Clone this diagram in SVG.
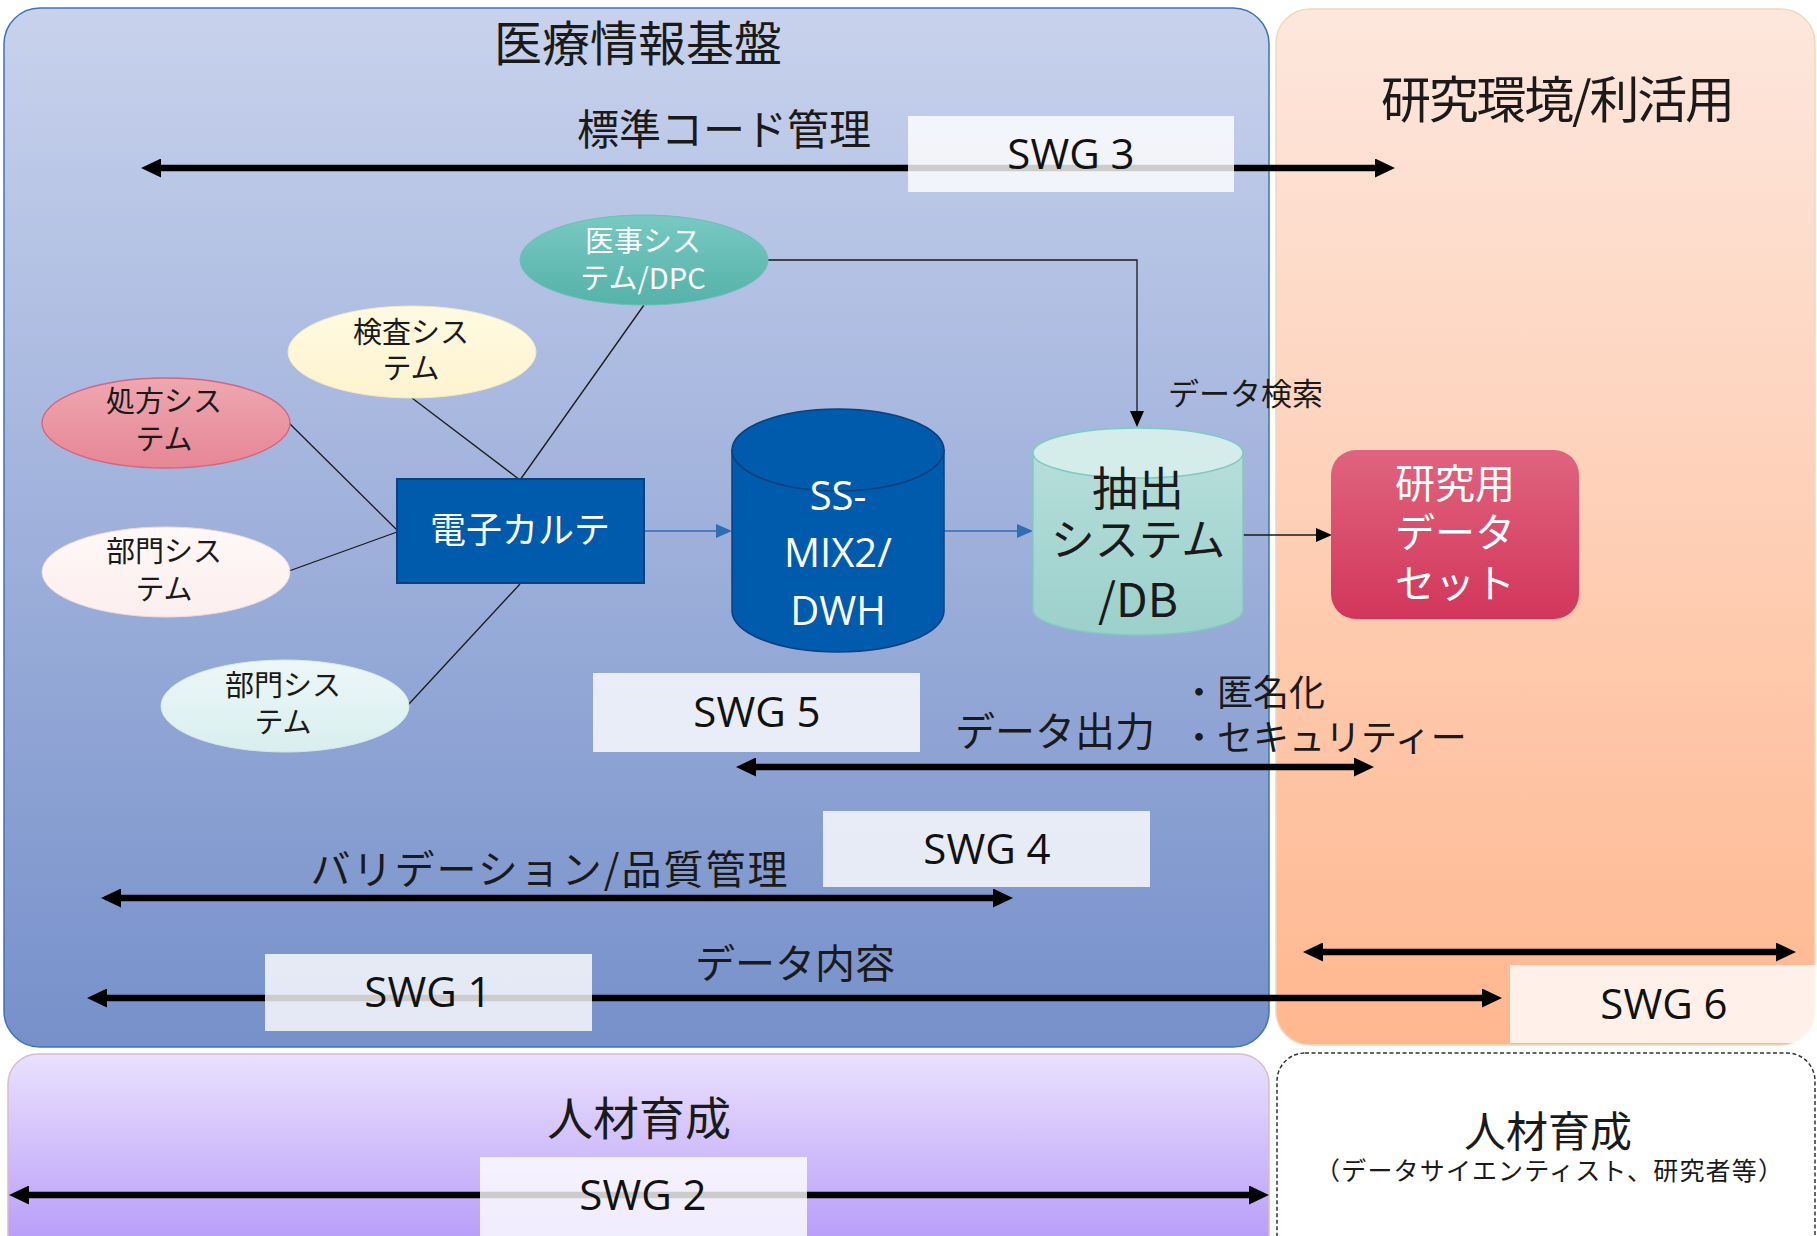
<svg xmlns="http://www.w3.org/2000/svg" width="1817" height="1236" viewBox="0 0 1817 1236">
<defs>
<linearGradient id="gBlue" x1="0" y1="0" x2="0" y2="1"><stop offset="0" stop-color="#C8D2EC"/><stop offset="1" stop-color="#7690CA"/></linearGradient>
<linearGradient id="gPeach" x1="0" y1="0" x2="0" y2="1"><stop offset="0" stop-color="#FDE7DD"/><stop offset="1" stop-color="#FFB78F"/></linearGradient>
<linearGradient id="gPurple" x1="0" y1="0" x2="0" y2="1"><stop offset="0" stop-color="#E9E1FD"/><stop offset="1" stop-color="#B395F8"/></linearGradient>
<linearGradient id="gTeal" x1="0" y1="0" x2="0" y2="1"><stop offset="0" stop-color="#78C9C1"/><stop offset="1" stop-color="#55B2AA"/></linearGradient>
<linearGradient id="gPink" x1="0" y1="0" x2="0" y2="1"><stop offset="0" stop-color="#EEA7B0"/><stop offset="1" stop-color="#E68696"/></linearGradient>
<linearGradient id="gWhitePink" x1="0" y1="0" x2="0" y2="1"><stop offset="0" stop-color="#FFF8F7"/><stop offset="1" stop-color="#FCEEEE"/></linearGradient>
<linearGradient id="gCyan" x1="0" y1="0" x2="0" y2="1"><stop offset="0" stop-color="#EDF7F7"/><stop offset="1" stop-color="#D9EEEE"/></linearGradient>
<linearGradient id="gYellow" x1="0" y1="0" x2="0" y2="1"><stop offset="0" stop-color="#FFFAE2"/><stop offset="1" stop-color="#FDF3CF"/></linearGradient>
<linearGradient id="gRed" x1="0" y1="0" x2="0" y2="1"><stop offset="0" stop-color="#E0647F"/><stop offset="1" stop-color="#D2365A"/></linearGradient>
<linearGradient id="gDB" x1="0" y1="0" x2="0" y2="1"><stop offset="0" stop-color="#B6DEDA"/><stop offset="1" stop-color="#9BD0CB"/></linearGradient>
<marker id="ah" markerUnits="userSpaceOnUse" markerWidth="20" markerHeight="19" viewBox="0 0 20 19" refX="1" refY="9.5" orient="auto-start-reverse"><path d="M0,0 L20,9.5 L0,19 z" fill="#000"/></marker>
<marker id="at" markerUnits="userSpaceOnUse" markerWidth="16" markerHeight="14" viewBox="0 0 16 14" refX="14" refY="7" orient="auto"><path d="M0,0 L16,7 L0,14 z" fill="#000"/></marker>
<marker id="ab" markerUnits="userSpaceOnUse" markerWidth="16" markerHeight="14" viewBox="0 0 16 14" refX="14" refY="7" orient="auto"><path d="M0,0 L16,7 L0,14 z" fill="#2F6DB5"/></marker>
<style>
.jp{font-family:"Noto Sans CJK JP","Noto Sans",sans-serif;fill:#1a1a1a}
.lat{font-family:"Open Sans","Liberation Sans",sans-serif;fill:#111}
.w{fill:#fff}
.mid{text-anchor:middle}
.thick{stroke:#000;stroke-width:6.5;fill:none;marker-start:url(#ah);marker-end:url(#ah)}
.thin{stroke:#1a1a1a;stroke-width:1.3;fill:none}
.swg{fill:#fff;fill-opacity:0.8}
</style>
</defs>

<!-- panels -->
<g id="panel-kiban"><rect x="4" y="8" width="1265" height="1039" rx="36" fill="url(#gBlue)" stroke="#3F72B8" stroke-width="1.5"/>
<text class="jp mid" x="638" y="61" font-size="48">医療情報基盤</text></g>
<g id="panel-kenkyu"><rect x="1276" y="9" width="539" height="1036" rx="34" fill="url(#gPeach)" stroke="#EFD9B8" stroke-width="1.5"/>
<text class="jp mid" x="1558" y="118" font-size="50" textLength="354" lengthAdjust="spacing">研究環境/利活用</text></g>
<g id="panel-jinzai"><rect x="8" y="1054" width="1261" height="210" rx="30" fill="url(#gPurple)" stroke="#D8BCCB" stroke-width="1.5"/>
<text class="jp mid" x="639" y="1135" font-size="46">人材育成</text></g>
<g id="panel-jinzai2"><rect x="1277" y="1053" width="538" height="210" rx="28" fill="#fff" stroke="#333" stroke-width="1.5" stroke-dasharray="4,2.5"/>
<text class="jp mid" x="1548" y="1147" font-size="42">人材育成</text>
<text class="jp mid" x="1549" y="1180" font-size="25" textLength="468" lengthAdjust="spacing">（データサイエンティスト、研究者等）</text></g>

<!-- connectors -->
<g id="connectors">
<line class="thin" x1="289" y1="423" x2="397" y2="530"/>
<line class="thin" x1="289" y1="571" x2="397" y2="532"/>
<line class="thin" x1="412" y1="398" x2="520" y2="480"/>
<line class="thin" x1="644" y1="305" x2="520" y2="480"/>
<line class="thin" x1="408" y1="705" x2="520" y2="584"/>
<path class="thin" d="M768,260 H1137 V425" marker-end="url(#at)"/>
<path class="thin" d="M1243,535 H1330" marker-end="url(#at)"/>
<path d="M644,531 H730" stroke="#2F6DB5" stroke-width="1.5" fill="none" marker-end="url(#ab)"/>
<path d="M944,531 H1031" stroke="#2F6DB5" stroke-width="1.5" fill="none" marker-end="url(#ab)"/>
<line class="thick" x1="160" y1="168" x2="1376" y2="168"/>
<line class="thick" x1="755" y1="767" x2="1355" y2="767"/>
<line class="thick" x1="120" y1="898" x2="994" y2="898"/>
<line class="thick" x1="106" y1="998" x2="1483" y2="998"/>
<line class="thick" x1="1322" y1="952" x2="1777" y2="952"/>
<line class="thick" x1="28" y1="1195" x2="1250" y2="1195"/>
</g>

<!-- nodes -->
<g id="iji"><ellipse cx="644" cy="260" rx="124" ry="45" fill="url(#gTeal)" stroke="#6CBFB6" stroke-width="1"/>
<text class="jp mid w" x="643" y="252" font-size="29">医事シス</text>
<text class="jp mid w" x="643" y="289" font-size="29">テム/DPC</text></g>
<g id="kensa"><ellipse cx="412" cy="352" rx="124" ry="46" fill="url(#gYellow)" stroke="#F3E9C2" stroke-width="1"/>
<text class="jp mid" x="411" y="343" font-size="29">検査シス</text>
<text class="jp mid" x="411" y="379" font-size="29">テム</text></g>
<g id="shoho"><ellipse cx="166" cy="423" rx="124" ry="45" fill="url(#gPink)" stroke="#D5647C" stroke-width="1.3"/>
<text class="jp mid" x="164" y="412" font-size="29">処方シス</text>
<text class="jp mid" x="164" y="450" font-size="29">テム</text></g>
<g id="bumon1"><ellipse cx="166" cy="572" rx="124" ry="45" fill="url(#gWhitePink)" stroke="#EFDADA" stroke-width="1"/>
<text class="jp mid" x="164" y="562" font-size="29">部門シス</text>
<text class="jp mid" x="164" y="600" font-size="29">テム</text></g>
<g id="bumon2"><ellipse cx="285" cy="706" rx="124" ry="46" fill="url(#gCyan)" stroke="#D3EAEA" stroke-width="1"/>
<text class="jp mid" x="283" y="696" font-size="29">部門シス</text>
<text class="jp mid" x="283" y="733" font-size="29">テム</text></g>
<g id="karte"><rect x="397" y="479" width="247" height="104" fill="#005BAC" stroke="#0D3F7E" stroke-width="2"/>
<text class="jp mid w" x="520" y="543" font-size="36">電子カルテ</text></g>
<g id="ssmix"><path d="M732,450 V611 A106,41 0 0 0 944,611 V450 Z" fill="#005BAC" stroke="#0C3F7C" stroke-width="1.5"/>
<ellipse cx="838" cy="450" rx="106" ry="41" fill="#005BAC" stroke="#0C3F7C" stroke-width="1.5"/>
<text class="lat mid w" x="838" y="510" font-size="40">SS-</text>
<text class="lat mid w" x="838" y="567" font-size="40">MIX2/</text>
<text class="lat mid w" x="838" y="625" font-size="40">DWH</text></g>
<g id="chushutsu"><path d="M1033,453 V610 A105,25 0 0 0 1243,610 V453 Z" fill="url(#gDB)" stroke="#7FCAC2" stroke-width="1.5"/>
<ellipse cx="1138" cy="453" rx="105" ry="25" fill="#D4ECEA" stroke="#7FCAC2" stroke-width="1.5"/>
<text class="jp mid" x="1138" y="505" font-size="46">抽出</text>
<text class="jp mid" x="1138" y="556" font-size="44">システム</text>
<text class="jp mid" x="1138" y="617" font-size="46">/DB</text></g>
<g id="dataset"><rect x="1331" y="450" width="248" height="169" rx="25" fill="url(#gRed)"/>
<text class="jp mid w" x="1455" y="498" font-size="40">研究用</text>
<text class="jp mid w" x="1455" y="547" font-size="40">データ</text>
<text class="jp mid w" x="1455" y="598" font-size="40">セット</text></g>

<!-- SWG boxes -->
<g id="swg3"><rect class="swg" x="908" y="116" width="326" height="76"/><text class="lat mid" x="1071" y="169" font-size="42">SWG 3</text></g>
<g id="swg5"><rect class="swg" x="593" y="673" width="327" height="79"/><text class="lat mid" x="757" y="727" font-size="42">SWG 5</text></g>
<g id="swg4"><rect class="swg" x="823" y="811" width="327" height="76"/><text class="lat mid" x="987" y="864" font-size="42">SWG 4</text></g>
<g id="swg1"><rect class="swg" x="265" y="954" width="327" height="77"/><text class="lat mid" x="428" y="1007" font-size="42">SWG 1</text></g>
<g id="swg6"><rect class="swg" x="1510" y="965" width="310" height="78"/><text class="lat mid" x="1664" y="1019" font-size="42">SWG 6</text></g>
<g id="swg2"><rect class="swg" x="480" y="1157" width="327" height="90"/><text class="lat mid" x="643" y="1210" font-size="42">SWG 2</text></g>

<!-- labels -->
<g id="labels">
<text class="jp mid" x="724" y="145" font-size="42">標準コード管理</text>
<text class="jp" x="1168" y="405" font-size="31">データ検索</text>
<text class="jp mid" x="1055" y="746" font-size="40">データ出力</text>
<text class="jp" x="1181" y="706" font-size="36">・匿名化</text>
<text class="jp" x="1181" y="751" font-size="36">・セキュリティー</text>
<text class="jp mid" x="549" y="884" font-size="40" textLength="477" lengthAdjust="spacing">バリデーション/品質管理</text>
<text class="jp mid" x="795" y="978" font-size="40">データ内容</text>
</g>
</svg>
